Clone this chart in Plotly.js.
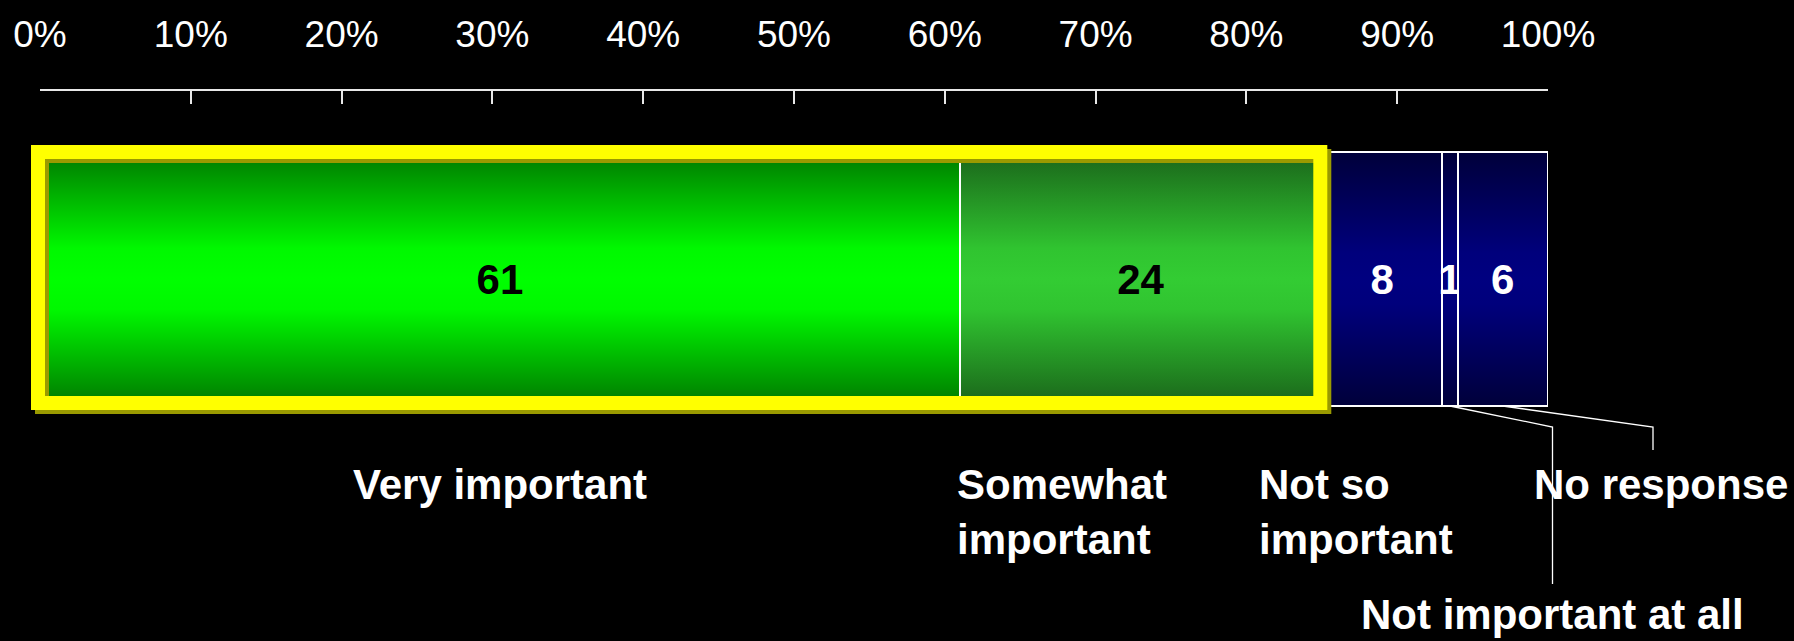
<!DOCTYPE html>
<html>
<head>
<meta charset="utf-8">
<script src="https://cdn.plot.ly/plotly-3.0.1.min.js"></script>
<style>
  html, body { margin: 0; padding: 0; background: #000; }
  #chart { width: 1794px; height: 641px; }
</style>
</head>
<body>
<div id="chart"></div>
<script>
// ---- data ----
const categories = ['Very important', 'Somewhat important', 'Not so important', 'Not important at all', 'No response'];
const values = [61, 24, 8, 1, 6];
const tickValues = [0, 10, 20, 30, 40, 50, 60, 70, 80, 90, 100];
const tickLabels = ['0%', '10%', '20%', '30%', '40%', '50%', '60%', '70%', '80%', '90%', '100%'];
const labelText = ['Very important', 'Somewhat<br>important', 'Not so<br>important', 'Not important at all', 'No response'];

// ---- style ----
const FONT = 'Liberation Sans, Arial, Helvetica, sans-serif';
const W = 1794, H = 641;
const M = { l: 40, r: 246, t: 91, b: 0 };
const plotW = W - M.l - M.r, plotH = H - M.t - M.b;
const barTopPx = 152, barBotPx = 406;
const pxPerY = barBotPx - barTopPx;           // one bar = 1 y unit
const yHi = 0.5 + (barTopPx - M.t) / pxPerY;
const yLo = yHi - plotH / pxPerY;
const paperX = p => (p - M.l) / plotW;
const paperY = p => (H - M.b - p) / plotH;
const dataYToPaper = y => (y - yLo) / (yHi - yLo);

const gradients = [
  [['0%', '#007800'], ['38%', '#00f800'], ['50%', '#00ff00'], ['62%', '#00f800'], ['100%', '#007800']],
  [['0%', '#1a641a'], ['38%', '#30c430'], ['50%', '#33cc33'], ['62%', '#30c430'], ['100%', '#1a641a']],
  [['0%', '#00003a'], ['40%', '#00007c'], ['50%', '#000080'], ['60%', '#00007c'], ['100%', '#00003a']],
  [['0%', '#00003a'], ['40%', '#00007c'], ['50%', '#000080'], ['60%', '#00007c'], ['100%', '#00003a']],
  [['0%', '#00003a'], ['40%', '#00007c'], ['50%', '#000080'], ['60%', '#00007c'], ['100%', '#00003a']]
];
const baseColors = ['#00cc00', '#2aa52a', '#000070', '#000070', '#000070'];
const textColors = ['#000000', '#000000', '#ffffff', '#ffffff', '#ffffff'];

// cumulative positions from data
const starts = [];
values.reduce((acc, v, i) => { starts[i] = acc; return acc + v; }, 0);
const mids = values.map((v, i) => starts[i] + v / 2);
const framedEnd = values[0] + values[1];

const traces = categories.map((c, i) => ({
  type: 'bar',
  orientation: 'h',
  name: c,
  y: [0],
  x: [values[i]],
  width: [1],
  text: [String(values[i])],
  textposition: 'inside',
  insidetextanchor: 'middle',
  textangle: 0,
  constraintext: 'none',
  textfont: { family: FONT, size: 42, color: textColors[i], weight: 700 },
  marker: { color: baseColors[i], line: { color: '#ffffff', width: 2 } },
  hoverinfo: 'skip',
  showlegend: false
}));

// frame in paper coordinates so it is not clipped at the plot edge
const fx0 = 0 / 100 - 2 / plotW, fx1 = framedEnd / 100 - 1.5 / plotW;
const fy0 = dataYToPaper(-0.5) + 3 / plotH, fy1 = dataYToPaper(0.5);
const shX = 4 / plotW, shY = 4 / plotH;
const shapes = [
  // shadow of the highlight frame
  { type: 'rect', xref: 'paper', yref: 'paper', x0: fx0 + shX, x1: fx1 + shX, y0: fy0 - shY, y1: fy1 - shY,
    line: { color: '#9a9a00', width: 14 }, fillcolor: 'rgba(0,0,0,0)', layer: 'above' },
  // highlight frame around the "important" answers
  { type: 'rect', xref: 'paper', yref: 'paper', x0: fx0, x1: fx1, y0: fy0, y1: fy1,
    line: { color: '#ffff00', width: 14 }, fillcolor: 'rgba(0,0,0,0)', layer: 'above' },
  // leader lines
  { type: 'path', xref: 'paper', yref: 'paper', layer: 'above',
    path: `M ${mids[3] / 100} ${dataYToPaper(-0.5)} L ${paperX(1552.5)} ${paperY(427)} L ${paperX(1552.5)} ${paperY(584)}`,
    line: { color: '#ffffff', width: 1.3 } },
  { type: 'path', xref: 'paper', yref: 'paper', layer: 'above',
    path: `M ${mids[4] / 100} ${dataYToPaper(-0.5)} L ${paperX(1653)} ${paperY(427)} L ${paperX(1653)} ${paperY(450)}`,
    line: { color: '#ffffff', width: 1.3 } }
];

const labFont = { family: FONT, size: 42, color: '#ffffff', weight: 700 };
const annotations = [
  { text: labelText[0], xref: 'x', yref: 'paper', x: mids[0], y: paperY(459), xanchor: 'center', yanchor: 'top', align: 'center' },
  { text: labelText[1], xref: 'x', yref: 'paper', x: starts[1], xshift: -5, y: paperY(459), xanchor: 'left', yanchor: 'top', align: 'left' },
  { text: labelText[2], xref: 'paper', yref: 'paper', x: paperX(1257), y: paperY(459), xanchor: 'left', yanchor: 'top', align: 'left' },
  { text: labelText[3], xref: 'paper', yref: 'paper', x: paperX(1552.5), y: paperY(640), xanchor: 'center', yanchor: 'bottom', align: 'center' },
  { text: labelText[4], xref: 'paper', yref: 'paper', x: paperX(1532), y: paperY(459), xanchor: 'left', yanchor: 'top', align: 'left' }
].map(a => Object.assign(a, { showarrow: false, font: labFont }));

const layout = {
  width: W, height: H,
  margin: M,
  paper_bgcolor: '#000000',
  plot_bgcolor: '#000000',
  barmode: 'stack',
  bargap: 0,
  hovermode: false,
  font: { family: FONT, color: '#ffffff' },
  xaxis: {
    side: 'top',
    range: [0, 100],
    tickmode: 'array',
    tickvals: tickValues,
    ticktext: tickLabels,
    ticks: 'inside',
    ticklen: 13,
    tickwidth: 2,
    tickcolor: '#e8e8e8',
    showline: true,
    linecolor: '#e8e8e8',
    linewidth: 2,
    showgrid: false,
    zeroline: false,
    ticklabelstandoff: 27,
    tickfont: { family: FONT, size: 37, color: '#ffffff' },
    fixedrange: true
  },
  yaxis: { visible: false, range: [yLo, yHi], fixedrange: true, showgrid: false, zeroline: false },
  shapes: shapes,
  annotations: annotations
};

const gd = document.getElementById('chart');
Plotly.newPlot(gd, traces, layout, { displayModeBar: false, staticPlot: true }).then(() => {
  const svg = gd.querySelector('.main-svg');
  const NS = 'http://www.w3.org/2000/svg';
  let defs = svg.querySelector('defs');
  if (!defs) { defs = document.createElementNS(NS, 'defs'); svg.insertBefore(defs, svg.firstChild); }
  gradients.forEach((stops, i) => {
    const g = document.createElementNS(NS, 'linearGradient');
    g.setAttribute('id', 'barGrad' + i);
    g.setAttribute('x1', '0'); g.setAttribute('y1', '0');
    g.setAttribute('x2', '0'); g.setAttribute('y2', '1');
    stops.forEach(([off, col]) => {
      const s = document.createElementNS(NS, 'stop');
      s.setAttribute('offset', off);
      s.setAttribute('stop-color', col);
      g.appendChild(s);
    });
    defs.appendChild(g);
  });
  const groups = gd.querySelectorAll('.barlayer .trace');
  groups.forEach((tg, i) => {
    tg.querySelectorAll('.point path').forEach(p => { p.style.fill = 'url(#barGrad' + i + ')'; });
  });
});
</script>
</body>
</html>
